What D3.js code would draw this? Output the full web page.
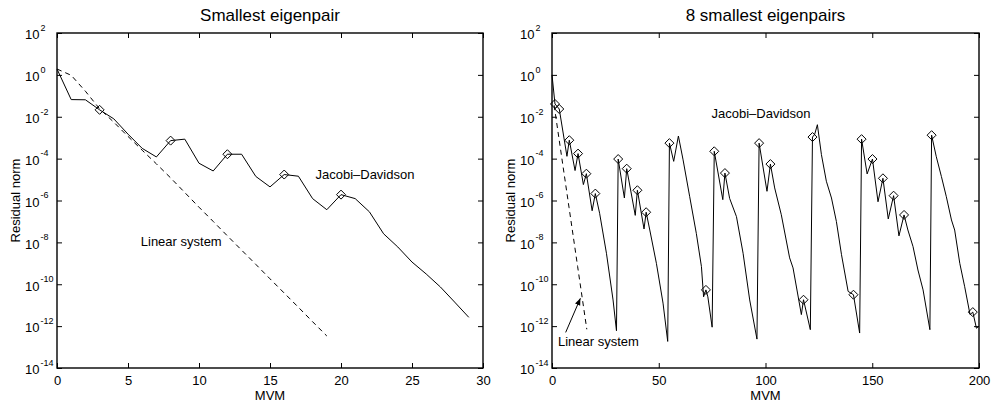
<!DOCTYPE html>
<html><head><meta charset="utf-8">
<script src="https://cdn.jsdelivr.net/npm/d3@7"></script>
<style>
body{margin:0;background:#fff}
svg{display:block}
text{font-family:"Liberation Sans",Arial,Helvetica,sans-serif;fill:#000}
</style>
</head><body>
<svg id="c" width="991" height="402"></svg>
<script>
// ---------------- DATA (residual norms stored as log10 exponents) ----------------
const titles = ["Smallest eigenpair", "8 smallest eigenpairs"];
const xLabel = "MVM";
const yLabel = "Residual norm";
const yTickExps = [2, 0, -2, -4, -6, -8, -10, -12, -14];
const leftXTicks = [0, 5, 10, 15, 20, 25, 30];
const rightXTicks = [0, 50, 100, 150, 200];

// Left panel: Jacobi-Davidson (solid)
const leftJDMVM = [0,1,2,3,4,5,6,7,8,9,10,11,12,13,14,15,16,17,18,19,20,21,22,23,24,25,26,27,28,29];
const leftJDExp = [0.28,-1.18,-1.19,-1.67,-2.1,-2.83,-3.51,-3.92,-3.14,-3.07,-4.22,-4.59,-3.79,-3.79,-4.85,-5.35,-4.76,-4.84,-5.91,-6.44,-5.72,-5.91,-6.54,-7.59,-8.22,-8.94,-9.51,-10.13,-10.85,-11.58];
// Left panel: converged markers
const leftDiamondMVM = [3, 8, 12, 16, 20];
const leftDiamondExp = [-1.67, -3.14, -3.79, -4.76, -5.72];
// Left panel: Linear system (dashed)
const leftLinMVM = [0,1,2,3,4,5,6,7,8,9,10,11,12,13,14,15,16,17,18,19];
const leftLinExp = [0.28,-0.02,-0.78,-1.62,-2.26,-2.94,-3.6,-4.25,-4.92,-5.62,-6.32,-7.0,-7.69,-8.37,-9.05,-9.74,-10.42,-11.1,-11.79,-12.47];

// Right panel: Jacobi-Davidson (solid)
const rightJDMVM = [0,1.4,3.4,7,8.1,10.8,12.2,14.7,16.1,18.8,20.3,22.3,25.5,28.6,30.2,31,33.9,35,39,40,43.1,44.1,45.8,48.9,52,54.2,55,57,59.2,61.4,64.5,67.6,70,71,72.1,73,75,76,80,81,83.2,86.4,89.5,92.6,96,97,100.7,102.3,104.3,107.4,111.3,112.9,116.8,117.8,121,122,123,124.3,126.2,128.5,130.9,133.2,135.6,138.7,141.2,144.1,145,147.6,150.1,152.7,155,157.5,160,162.5,164.9,166.7,169.1,171.4,173.8,177,177.8,180,182.4,184.7,187.1,188.6,191,193.3,195.8,197.1,198.8,200];
const rightJDExp = [0.0,-1.39,-1.63,-3.89,-3.12,-4.57,-3.76,-5.24,-4.72,-6.49,-5.67,-6.61,-8.52,-10.75,-12.22,-4.02,-5.88,-4.48,-6.71,-5.51,-7.36,-6.56,-7.41,-9.0,-10.9,-12.73,-3.26,-4.13,-2.92,-4.06,-5.82,-7.57,-9.16,-10.6,-10.27,-10.6,-12.05,-3.65,-5.96,-4.69,-5.9,-6.77,-8.52,-10.75,-12.62,-3.26,-5.56,-4.26,-5.4,-6.68,-8.74,-9.22,-11.45,-10.74,-12.17,-2.97,-2.85,-2.38,-3.81,-5.08,-5.88,-7.0,-8.59,-10.34,-10.5,-12.33,-3.07,-4.73,-4.02,-6.06,-4.94,-6.88,-5.77,-7.69,-6.69,-7.41,-8.2,-9.32,-10.27,-12.17,-2.88,-3.91,-4.86,-5.82,-6.93,-7.41,-9.0,-10.12,-11.45,-11.33,-12.1,-12.0];
// Right panel: converged markers
const rightDiamondMVM = [1.4,3.4,8.1,12.2,16.1,20.3,31,35,40,44.1,55,72.1,76,81,97,102.3,117.8,122,141.2,145,150.1,155,160,164.9,177.8,197.1];
const rightDiamondExp = [-1.39,-1.63,-3.12,-3.76,-4.72,-5.67,-4.02,-4.48,-5.51,-6.56,-3.26,-10.27,-3.65,-4.69,-3.26,-4.26,-10.74,-2.97,-10.5,-3.07,-4.02,-4.94,-5.77,-6.69,-2.88,-11.33];
// Right panel: Linear system (dashed)
const rightLinMVM = [1, 4, 8, 12, 16.3];
const rightLinExp = [-1.45, -3.55, -6.35, -9.15, -12.15];

// Annotations (data coordinates)
const leftJDLabel = {text: "Jacobi\u2013Davidson", mvm: 18.2, exp: -4.97};
const leftLinLabel = {text: "Linear system", mvm: 5.9, exp: -8.17};
const rightJDLabel = {text: "Jacobi\u2013Davidson", mvm: 74.7, exp: -2.06};
const rightLinLabel = {text: "Linear system", mvm: 2.8, exp: -12.95};
const rightArrow = {fromMVM: 6.4, fromExp: -12.3, toMVM: 13.3, toExp: -10.67};

// ---------------- DRAWING ----------------
const svg = d3.select("#c");
const yTop = 33, yBottom = 368;
const y = d3.scaleLog().domain([1e-14, 1e2]).range([yBottom, yTop]);
const pow = e => Math.pow(10, e);

svg.append("defs").append("marker")
  .attr("id", "ah").attr("viewBox", "0 0 10 10").attr("refX", 10).attr("refY", 5)
  .attr("markerWidth", 7).attr("markerHeight", 7).attr("orient", "auto")
  .attr("markerUnits", "userSpaceOnUse")
  .append("path").attr("d", "M0,1 L10,5 L0,9 z").attr("fill", "#000");

function panel(cfg) {
  const x = d3.scaleLinear().domain(cfg.xDomain).range([cfg.x0, cfg.x1]);
  const g = svg.append("g");
  const line = d3.line().x(d => x(d[0])).y(d => y(pow(d[1])));

  // Title
  g.append("text").attr("x", (cfg.x0 + cfg.x1) / 2).attr("y", 21)
    .attr("text-anchor", "middle").attr("font-size", 17).text(cfg.title);

  // Series
  g.append("path").datum(d3.zip(cfg.linX, cfg.linY)).attr("d", line)
    .attr("fill", "none").attr("stroke", "#000").attr("stroke-width", 1)
    .attr("stroke-dasharray", "5,4");
  g.append("path").datum(d3.zip(cfg.jdX, cfg.jdY)).attr("d", line)
    .attr("fill", "none").attr("stroke", "#000").attr("stroke-width", 1);

  // Diamonds
  const s = 4.5;
  g.selectAll("path.dm").data(d3.zip(cfg.dmX, cfg.dmY)).join("path")
    .attr("class", "dm")
    .attr("d", d => {
      const cx = x(d[0]), cy = y(pow(d[1]));
      return `M${cx},${cy - s}L${cx + s},${cy}L${cx},${cy + s}L${cx - s},${cy}Z`;
    })
    .attr("fill", "none").attr("stroke", "#000").attr("stroke-width", 1);

  // Axes: inward ticks on all sides
  const yVals = yTickExps.map(pow);
  const ax = g.append("g").attr("class", "axes");
  const bottomAx = ax.append("g").attr("transform", `translate(0,${yBottom})`)
    .call(d3.axisBottom(x).tickValues(cfg.xTicks).tickSizeInner(-5).tickSizeOuter(0).tickPadding(8).tickFormat(d3.format("d")));
  ax.append("g").attr("transform", `translate(0,${yTop})`)
    .call(d3.axisTop(x).tickValues(cfg.xTicks).tickSizeInner(-5).tickSizeOuter(0).tickFormat(""));
  const leftAx = ax.append("g").attr("transform", `translate(${cfg.x0},0)`)
    .call(d3.axisLeft(y).tickValues(yVals).tickSizeInner(-5).tickSizeOuter(0).tickPadding(15).tickFormat(""));
  ax.append("g").attr("transform", `translate(${cfg.x1},0)`)
    .call(d3.axisRight(y).tickValues(yVals).tickSizeInner(-5).tickSizeOuter(0).tickFormat(""));
  ax.selectAll(".domain").remove();
  ax.selectAll("line").attr("stroke", "#000").attr("stroke-width", 1);
  bottomAx.selectAll("text").attr("font-size", 13).attr("font-family", null).attr("fill", "#000");

  // y tick labels with superscripts
  leftAx.selectAll(".tick").each(function (d, i) {
    const t = d3.select(this).select("text");
    t.attr("font-family", null).attr("fill", "#000").attr("text-anchor", "start")
      .attr("x", -32).attr("dy", null).attr("y", 5.8);
    t.text("");
    t.append("tspan").attr("font-size", 13).text("10");
    t.append("tspan").attr("font-size", 9).attr("dy", -8.5).attr("dx", 1)
      .text(String(yTickExps[i]));
  });

  // Box
  g.append("rect").attr("x", cfg.x0).attr("y", yTop)
    .attr("width", cfg.x1 - cfg.x0).attr("height", yBottom - yTop)
    .attr("fill", "none").attr("stroke", "#000").attr("stroke-width", 1.4);

  // Axis labels
  g.append("text").attr("x", (cfg.x0 + cfg.x1) / 2).attr("y", 400)
    .attr("text-anchor", "middle").attr("font-size", 13).text(xLabel);
  g.append("text").attr("transform", `translate(${cfg.x0 - 37.5},${(yTop + yBottom) / 2}) rotate(-90)`)
    .attr("text-anchor", "middle").attr("font-size", 13).text(yLabel);

  // Annotations
  cfg.labels.forEach(l => {
    g.append("text").attr("x", x(l.mvm)).attr("y", y(pow(l.exp)))
      .attr("font-size", 13).text(l.text);
  });
  if (cfg.arrow) {
    const a = cfg.arrow;
    g.append("line")
      .attr("x1", x(a.fromMVM)).attr("y1", y(pow(a.fromExp)))
      .attr("x2", x(a.toMVM)).attr("y2", y(pow(a.toExp)))
      .attr("stroke", "#000").attr("stroke-width", 1).attr("marker-end", "url(#ah)");
  }
}

panel({
  title: titles[0], xDomain: [0, 30], x0: 57, x1: 483, xTicks: leftXTicks,
  jdX: leftJDMVM, jdY: leftJDExp, linX: leftLinMVM, linY: leftLinExp,
  dmX: leftDiamondMVM, dmY: leftDiamondExp,
  labels: [leftJDLabel, leftLinLabel]
});
panel({
  title: titles[1], xDomain: [0, 200], x0: 552, x1: 979, xTicks: rightXTicks,
  jdX: rightJDMVM, jdY: rightJDExp, linX: rightLinMVM, linY: rightLinExp,
  dmX: rightDiamondMVM, dmY: rightDiamondExp,
  labels: [rightJDLabel, rightLinLabel], arrow: rightArrow
});
</script>
</body></html>
